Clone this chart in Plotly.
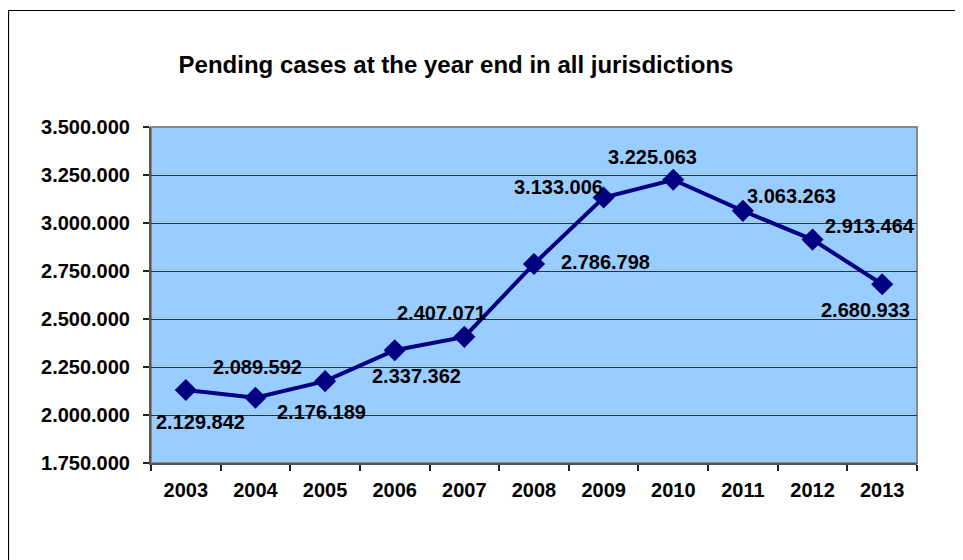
import plotly.graph_objects as go

years = ["2003", "2004", "2005", "2006", "2007", "2008", "2009", "2010", "2011", "2012", "2013"]
pending = [2129842, 2089592, 2176189, 2337362, 2407071, 2786798, 3133006, 3225063, 3063263, 2913464, 2680933]
label_text = ["2.129.842", "2.089.592", "2.176.189", "2.337.362", "2.407.071", "2.786.798",
              "3.133.006", "3.225.063", "3.063.263", "2.913.464", "2.680.933"]
y_ticks = [1750000, 2000000, 2250000, 2500000, 2750000, 3000000, 3250000, 3500000]
title_text = "Pending cases at the year end in all jurisdictions"

# label offsets in pixels (style only)
label_dx = [15, 2, -4, 22, -23, 71, -45, -21, 49, 57, -17]
label_dy = [-32, 31, -31, -26, 24, 2, 10, 23, 15, 14, -26]

FONT = "Liberation Sans, Arial, sans-serif"
NAVY = "#000080"

fig = go.Figure()
fig.add_trace(go.Scatter(
    x=years, y=pending, mode="lines+markers",
    line=dict(color=NAVY, width=4),
    marker=dict(symbol="diamond", size=17, color=NAVY),
    hoverinfo="skip", showlegend=False, cliponaxis=False,
))

for i, (y, t, dx, dy) in enumerate(zip(pending, label_text, label_dx, label_dy)):
    fig.add_annotation(x=i, y=y, xref="x", yref="y", text="<b>" + t + "</b>",
                       showarrow=False, xshift=dx, yshift=dy,
                       font=dict(family=FONT, size=20, color="black"))

# page body adds an 8px offset, so the figure is sized to fit the window
W, H = 955, 552
L, R, T, B = 143, 46, 119, 97
pw, ph = W - L - R, H - T - B

# outer chart border: left and top edges (paper coords)
bx = (0.5 - L) / pw
by = (T + ph - 2.5) / ph
fig.add_shape(type="line", xref="paper", yref="paper", x0=bx, x1=bx,
              y0=-(B + 5) / ph, y1=by, line=dict(color="black", width=1.2), layer="below")
fig.add_shape(type="line", xref="paper", yref="paper", x0=bx, x1=(W + 5 - L) / pw,
              y0=by, y1=by, line=dict(color="black", width=1.2), layer="below")
# plot border in gray
fig.add_shape(type="rect", xref="paper", yref="paper", x0=0, x1=1, y0=0, y1=1,
              line=dict(color="#888888", width=2), fillcolor="rgba(0,0,0,0)", layer="below")

fig.update_layout(
    width=W, height=H,
    margin=dict(l=L, r=R, t=T, b=B),
    paper_bgcolor="white", plot_bgcolor="#99CCFF",
    separators=",.",
    title=dict(text="<b>" + title_text + "</b>", x=448 / W, xanchor="center",
               y=1 - 57 / H, yanchor="middle",
               font=dict(family=FONT, size=24, color="black")),
    xaxis=dict(type="category", range=[-0.5, 10.5], tickson="boundaries",
               ticks="outside", ticklen=6, tickcolor="#222222", tickwidth=1.5,
               showline=True, linecolor="#555555", linewidth=2,
               showgrid=False, ticklabelstandoff=8,
               tickvals=years, ticktext=["<b>" + y + "</b>" for y in years],
               tickfont=dict(family=FONT, size=20, color="black")),
    yaxis=dict(range=[1750000, 3500000], tickvals=y_ticks, tickformat=",d",
               ticks="outside", ticklen=6, tickcolor="#222222", tickwidth=1.5,
               showline=True, linecolor="#555555", linewidth=2,
               showgrid=True, gridcolor="#333333", gridwidth=1.2, zeroline=False,
               ticklabelstandoff=9,
               tickfont=dict(family=FONT, size=20, color="black", weight="bold")),
)

fig.write_html("out.html", post_script="document.documentElement.style.overflow='hidden';")
